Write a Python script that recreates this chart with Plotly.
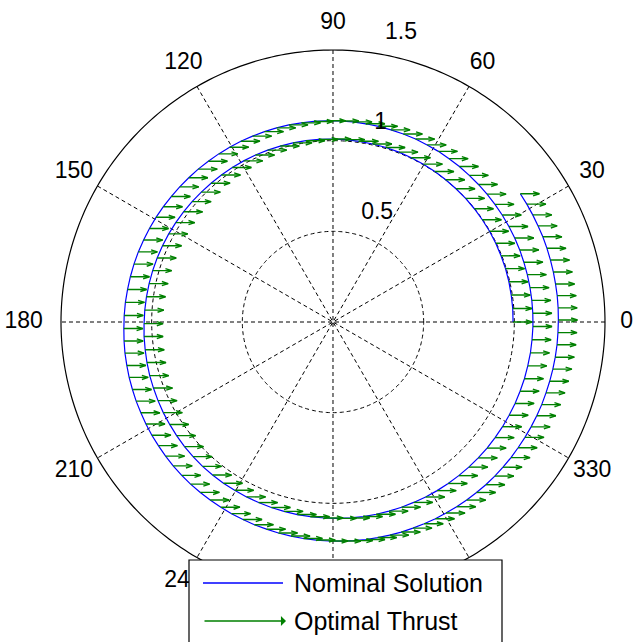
import numpy as np
import plotly.graph_objects as go

# ---------------- data ----------------
# trajectory nodes: polar angle (deg, cumulative) and radius
theta_deg = [
    0, 4.3, 8.6, 12.9, 17.2, 21.5, 25.8, 30.1, 34.4, 38.7, 43.0, 47.3, 51.6, 55.9, 60.2, 64.5, 68.8, 73.1, 77.4, 81.7, 86.0,
    90.3, 94.4, 98.5, 102.6, 106.7, 110.8, 114.9, 119.0, 123.1, 127.2, 131.3, 135.4, 139.5, 143.6, 147.7, 151.8, 155.9, 160.0, 164.1, 168.2, 172.3, 176.4,
    180.5, 184.4, 188.4, 192.3, 196.3, 200.2, 204.2, 208.1, 212.1, 216.0, 220.0, 223.9, 227.9, 231.8, 235.8, 239.7, 243.7, 247.6, 251.6, 255.5, 259.5, 263.4, 267.4,
    271.3, 275.1, 278.9, 282.7, 286.5, 290.3, 294.1, 297.9, 301.7, 305.5, 309.3, 313.1, 316.9, 320.7, 324.5, 328.3, 332.1, 335.9, 339.7, 343.5, 347.3, 351.1, 354.9, 358.7,
    362.5, 366.2, 369.9, 373.7, 377.4, 381.1, 384.8, 388.5, 392.3, 396.0, 399.7, 403.4, 407.1, 410.9, 414.6, 418.3, 422.0, 425.7, 429.5, 433.2, 436.9, 440.6, 444.3, 448.1,
    451.8, 455.4, 459.0, 462.6, 466.2, 469.8, 473.4, 477.0, 480.6, 484.2, 487.8, 491.4, 495.0, 498.6, 502.2, 505.8, 509.4, 513.0, 516.6, 520.2, 523.8, 527.4, 531.0, 534.6, 538.2,
    541.8, 545.2, 548.5, 551.9, 555.2, 558.6, 561.9, 565.3, 568.6, 572.0, 575.3, 578.7, 582.0, 585.4, 588.7, 592.1, 595.4, 598.8, 602.1, 605.5, 608.8, 612.2, 615.5, 618.9, 622.2, 625.6, 628.9,
    632.3, 635.4, 638.6, 641.7, 644.9, 648.0, 651.2, 654.3, 657.5, 660.6, 663.8, 666.9, 670.1, 673.2, 676.4, 679.5, 682.7, 685.8, 689.0, 692.1, 695.3, 698.4, 701.6, 704.7, 707.9, 711.0, 714.2, 717.3,
    720.5, 723.6, 726.7, 729.7, 732.8, 735.9, 739.0, 742.1, 745.1, 748.2, 751.3, 754.4,
]
r_au = [
    0.993, 0.994, 0.994, 0.995, 0.996, 0.996, 0.997, 0.998, 0.998, 0.999, 1.000, 1.000, 1.001, 1.002, 1.003, 1.004, 1.005, 1.006, 1.006, 1.007, 1.008,
    1.009, 1.010, 1.011, 1.012, 1.013, 1.014, 1.015, 1.016, 1.017, 1.018, 1.019, 1.020, 1.022, 1.024, 1.026, 1.028, 1.030, 1.032, 1.034, 1.036, 1.038, 1.040,
    1.042, 1.045, 1.047, 1.050, 1.053, 1.055, 1.058, 1.061, 1.063, 1.066, 1.069, 1.071, 1.073, 1.074, 1.075, 1.075, 1.076, 1.077, 1.078, 1.079, 1.080, 1.081, 1.082,
    1.083, 1.085, 1.086, 1.087, 1.088, 1.089, 1.090, 1.092, 1.093, 1.094, 1.095, 1.096, 1.097, 1.098, 1.098, 1.099, 1.099, 1.100, 1.100, 1.101, 1.101, 1.102, 1.102, 1.103,
    1.103, 1.103, 1.103, 1.103, 1.103, 1.104, 1.104, 1.104, 1.104, 1.104, 1.104, 1.104, 1.104, 1.105, 1.105, 1.106, 1.106, 1.107, 1.107, 1.107, 1.108, 1.108, 1.109, 1.109,
    1.110, 1.111, 1.112, 1.114, 1.115, 1.116, 1.117, 1.119, 1.120, 1.121, 1.122, 1.124, 1.125, 1.127, 1.129, 1.131, 1.134, 1.136, 1.138, 1.141, 1.143, 1.145, 1.147, 1.150, 1.152,
    1.154, 1.157, 1.160, 1.162, 1.165, 1.167, 1.170, 1.172, 1.175, 1.178, 1.180, 1.183, 1.186, 1.188, 1.190, 1.191, 1.193, 1.194, 1.196, 1.197, 1.199, 1.200, 1.202, 1.203, 1.205, 1.206, 1.208,
    1.209, 1.211, 1.213, 1.214, 1.216, 1.218, 1.219, 1.221, 1.223, 1.224, 1.226, 1.228, 1.229, 1.231, 1.232, 1.233, 1.234, 1.234, 1.235, 1.236, 1.237, 1.238, 1.238, 1.239, 1.240, 1.241, 1.242, 1.242,
    1.243, 1.244, 1.245, 1.245, 1.246, 1.247, 1.248, 1.249, 1.249, 1.250, 1.251, 1.252,
]
thrust_dir_deg = 0.0      # thrust points along +x everywhere
thrust_len = 0.105        # drawn arrow length (radius units)

angle_ticks = [0, 30, 60, 90, 120, 150, 180, 210, 240, 270, 300, 330]
hidden_angle_labels = [270, 300]      # covered by the legend box in the reference
radial_ticks = [0.5, 1.0, 1.5]
radial_tick_labels = ["0.5", "1", "1.5"]
series_names = ["Nominal Solution", "Optimal Thrust"]

R_MAX = 1.5          # outer circle of the polar grid
R_VIEW = 1.66        # visible radial extent (room for the angle labels)
BLUE = "#0000FF"
GREEN = "#008000"
FONT = "Arial, Liberation Sans, sans-serif"
DASH = "4px,3px"
RADIAL_LABEL_ANGLES = [75.5, 78.3, 79.8]   # label placement (style)

assert len(theta_deg) == len(r_au)

# ---------------- quiver arrows (computed from the data) ----------------
th = np.radians(np.array(theta_deg, dtype=float))
rr = np.array(r_au, dtype=float)
x0 = rr * np.cos(th)
y0 = rr * np.sin(th)
ux = thrust_len * np.cos(np.radians(thrust_dir_deg))
uy = thrust_len * np.sin(np.radians(thrust_dir_deg))
alpha, beta = 0.33, 0.33

ax_r, ax_t = [], []


def add_pt(x, y):
    ax_r.append(float(np.hypot(x, y)))
    ax_t.append(float(np.degrees(np.arctan2(y, x))))


for xa, ya in zip(x0, y0):
    xt, yt = xa + ux, ya + uy
    add_pt(xa, ya)
    add_pt(xt, yt)
    ax_r.append(None); ax_t.append(None)
    add_pt(xt - alpha * (ux + beta * uy), yt - alpha * (uy - beta * ux))
    add_pt(xt, yt)
    add_pt(xt - alpha * (ux - beta * uy), yt - alpha * (uy + beta * ux))
    ax_r.append(None); ax_t.append(None)

fig = go.Figure()

# ---------------- MATLAB-style polar grid ----------------
circ_t = np.arange(0, 360.5, 1.0)
for v in radial_ticks[:-1]:
    fig.add_trace(go.Scatterpolar(
        r=np.full(circ_t.size, v), theta=circ_t, mode="lines",
        line=dict(color="black", width=1, dash=DASH),
        showlegend=False, hoverinfo="skip"))
fig.add_trace(go.Scatterpolar(
    r=np.full(circ_t.size, R_MAX), theta=circ_t, mode="lines",
    line=dict(color="black", width=1.2),
    showlegend=False, hoverinfo="skip"))
sp_r, sp_t = [], []
for a in angle_ticks[:6]:
    sp_r += [R_MAX, 0, R_MAX, None]
    sp_t += [a, a, a + 180, None]
fig.add_trace(go.Scatterpolar(
    r=sp_r, theta=sp_t, mode="lines",
    line=dict(color="black", width=1, dash=DASH),
    showlegend=False, hoverinfo="skip"))

# ---------------- data traces ----------------
fig.add_trace(go.Scatterpolar(
    r=r_au, theta=theta_deg, mode="lines",
    line=dict(color=BLUE, width=1.2),
    name=series_names[0], showlegend=False, hoverinfo="skip",
))
fig.add_trace(go.Scatterpolar(
    r=ax_r, theta=ax_t, mode="lines",
    line=dict(color=GREEN, width=1.4),
    name=series_names[1], showlegend=False, hoverinfo="skip", connectgaps=False,
))

# angular labels (MATLAB style: centred just outside the outer circle)
lab_r, lab_t, lab_txt, lab_pos = [], [], [], []
for a in angle_ticks:
    if a in hidden_angle_labels:
        continue
    lab_t.append(a)
    lab_txt.append(str(a))
    if a == 0:
        lab_r.append(1.62); lab_pos.append("middle center")
    elif a == 180:
        lab_r.append(1.60); lab_pos.append("middle left")
    else:
        lab_r.append(1.65); lab_pos.append("middle center")
fig.add_trace(go.Scatterpolar(
    r=lab_r, theta=lab_t, mode="text",
    text=lab_txt, textposition=lab_pos,
    textfont=dict(family=FONT, size=23, color="black"),
    showlegend=False, hoverinfo="skip", cliponaxis=False,
))
# radial labels
fig.add_trace(go.Scatterpolar(
    r=[v + 0.12 for v in radial_ticks], theta=RADIAL_LABEL_ANGLES, mode="text",
    text=radial_tick_labels, textposition="middle right",
    textfont=dict(family=FONT, size=23, color="black"),
    showlegend=False, hoverinfo="skip", cliponaxis=False,
))

W, H = 634, 642
CX, CY = 333, 322            # centre of the polar plot in pixels
PIX_PER_UNIT = 272 / R_MAX
half = PIX_PER_UNIT * R_VIEW

fig.update_layout(
    width=W, height=H, autosize=False,
    margin=dict(l=0, r=0, t=0, b=0),
    paper_bgcolor="white",
    showlegend=False,
    polar=dict(
        domain=dict(x=[(CX - half) / W, min(1.0, (CX + half) / W)],
                    y=[1 - (CY + half) / H, 1 - (CY - half) / H]),
        bgcolor="rgba(0,0,0,0)",
        radialaxis=dict(range=[0, R_VIEW], visible=False, showgrid=False),
        angularaxis=dict(showgrid=False, showline=False, showticklabels=False,
                         ticks="", direction="counterclockwise", rotation=0),
    ),
)

# ---------------- legend box (MATLAB style) ----------------
def px(x):
    return x / W


def py(y):
    return 1 - y / H


fig.add_shape(type="rect", xref="paper", yref="paper",
              x0=px(189), x1=px(502), y0=py(660), y1=py(560),
              fillcolor="white", line=dict(color="black", width=1.2), layer="above")
fig.add_shape(type="line", xref="paper", yref="paper",
              x0=px(203), x1=px(283), y0=py(583), y1=py(583),
              line=dict(color=BLUE, width=1.3), layer="above")
fig.add_annotation(xref="paper", yref="paper", x=px(286), y=py(621),
                   axref="pixel", ayref="pixel", ax=-83, ay=0, text="",
                   showarrow=True, arrowhead=1, arrowsize=1.3, arrowwidth=1.3,
                   arrowcolor=GREEN)
for name, yy in zip(series_names, [583, 621]):
    fig.add_annotation(xref="paper", yref="paper", x=px(292), y=py(yy),
                       text=name, showarrow=False, xanchor="left", yanchor="middle",
                       font=dict(family=FONT, size=25, color="black"))

fig.write_html("out.html")
